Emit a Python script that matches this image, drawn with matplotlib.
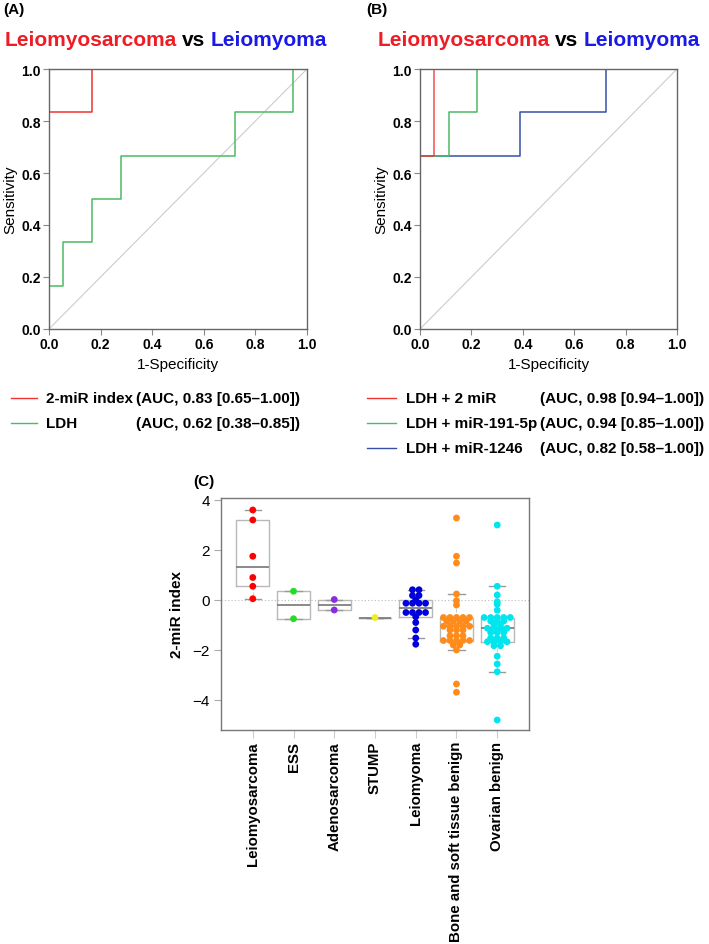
import numpy as np
import matplotlib
matplotlib.use('Agg')
import matplotlib.pyplot as plt
from matplotlib.lines import Line2D
from matplotlib.offsetbox import TextArea, HPacker, AnnotationBbox

plt.rcParams['font.family'] = ['Liberation Sans', 'DejaVu Sans']

W, H = 709, 945

# ---- ROC curves (corner points of the step curves) ----
a_mir_fpr = [0.0, 0.0, 0.167, 0.167, 1.0]
a_mir_tpr = [0.0, 0.833, 0.833, 1.0, 1.0]
a_ldh_fpr = [0.0, 0.0, 0.056, 0.056, 0.167, 0.167, 0.278, 0.278, 0.722, 0.722, 0.944, 0.944, 1.0]
a_ldh_tpr = [0.0, 0.167, 0.167, 0.333, 0.333, 0.5, 0.5, 0.667, 0.667, 0.833, 0.833, 1.0, 1.0]

b_2mir_fpr = [0.0, 0.0, 0.056, 0.056, 1.0]
b_2mir_tpr = [0.0, 0.667, 0.667, 1.0, 1.0]
b_191_fpr = [0.0, 0.0, 0.111, 0.111, 0.222, 0.222, 1.0]
b_191_tpr = [0.0, 0.667, 0.667, 0.833, 0.833, 1.0, 1.0]
b_1246_fpr = [0.0, 0.0, 0.389, 0.389, 0.722, 0.722, 1.0]
b_1246_tpr = [0.0, 0.667, 0.667, 0.833, 0.833, 1.0, 1.0]

legend_a = [('2-miR index', '(AUC, 0.83 [0.65\u20131.00])'),
            ('LDH', '(AUC, 0.62 [0.38\u20130.85])')]
legend_b = [('LDH + 2 miR', '(AUC, 0.98 [0.94\u20131.00])'),
            ('LDH + miR-191-5p', '(AUC, 0.94 [0.85\u20131.00])'),
            ('LDH + miR-1246', '(AUC, 0.82 [0.58\u20131.00])')]

# ---- 2-miR index by group ----
categories = ['Leiomyosarcoma', 'ESS', 'Adenosarcoma', 'STUMP', 'Leiomyoma',
              'Bone and soft tissue benign', 'Ovarian benign']
lms = [3.6, 3.2, 1.75, 0.9, 0.55, 0.05]
ess = [0.35, -0.75]
adeno = [0.02, -0.4]
stump = [-0.7]
lm = [0.41, 0.41, 0.18, 0.18, 0.0, -0.13, -0.13, -0.13, -0.13,
      -0.5, -0.5, -0.5, -0.5, -0.67, -0.9, -1.2, -1.52, -1.77]
bone = [3.28, 1.75, 1.48, 0.24, -0.03, -0.2,
        -0.7, -0.7, -0.7, -0.7, -0.7, -0.85, -0.85, -0.85, -0.85,
        -1.05, -1.05, -1.05, -1.05, -1.05, -1.2, -1.2, -1.2,
        -1.43, -1.43, -1.43, -1.62, -1.62, -1.62, -1.62, -1.62,
        -1.8, -1.8, -2.0, -3.36, -3.69]
ovary = [3.0, 0.55, 0.2, -0.07, -0.17, -0.41,
         -0.7, -0.7, -0.7, -0.7, -0.7, -0.84, -0.84, -0.84, -1.0, -1.0,
         -1.13, -1.13, -1.13, -1.13, -1.3, -1.3, -1.3, -1.52, -1.52, -1.52,
         -1.67, -1.67, -1.67, -1.67, -1.83, -1.83, -2.25, -2.56, -2.87, -4.8]
groups = [lms, ess, adeno, stump, lm, bone, ovary]
group_colors = ['#ff0000', '#22dd22', '#8a2be2', '#eeee22', '#0000dd', '#ff8c1a', '#00e5ee']

RED, GREEN, BLUE = '#f03232', '#4cbc60', '#3650a8'


def fig_box(x0, y0, x1, y1):
  return [x0 / W, 1 - y1 / H, (x1 - x0) / W, (y1 - y0) / H]


def colored_title(x, y, parts):
  boxes = [TextArea(t, textprops=dict(color=c, fontsize=15, fontweight='bold'))
           for t, c in parts]
  pack = HPacker(children=boxes, align='baseline', pad=0, sep=4)
  ab = AnnotationBbox(pack, (x / W, 1 - y / H), xycoords='figure fraction',
                      frameon=False, box_alignment=(0.5, 0.5))
  fig.add_artist(ab)


def style_roc(ax):
  ax.set_xlim(0, 1)
  ax.set_ylim(0, 1)
  ax.plot([0, 1], [0, 1], color='#cccccc', lw=0.8, zorder=1)
  for s in ax.spines.values():
    s.set_color('#666666')
    s.set_linewidth(1)
  ticks = [0, 0.2, 0.4, 0.6, 0.8, 1.0]
  ax.set_xticks(ticks)
  ax.set_yticks(ticks)
  ax.set_xticklabels([f'{t:.1f}' for t in ticks], fontweight='bold', fontsize=10)
  ax.set_yticklabels([f'{t:.1f}' for t in ticks], fontweight='bold', fontsize=10)
  ax.tick_params(length=4, color='#888888', pad=2)
  ax.set_xlabel('1-Specificity', fontsize=11, labelpad=4)
  ax.set_ylabel('Sensitivity', fontsize=11, labelpad=3)


def draw_legend(rows, colors, x_line0, x_line1, x_name, x_auc, y0, dy):
  for i, ((name, auc), c) in enumerate(zip(rows, colors)):
    y = 1 - (y0 + i * dy) / H
    fig.add_artist(Line2D([x_line0 / W, x_line1 / W], [y, y], color=c, lw=1))
    fig.text(x_name / W, y, name, fontsize=11, fontweight='bold', va='center')
    fig.text(x_auc / W, y, auc, fontsize=11, fontweight='bold', va='center')


def fivenum(v):
  v = np.sort(np.asarray(v, dtype=float))
  n = len(v)
  n4 = np.floor((n + 3) / 2) / 2
  d = np.array([1, n4, (n + 1) / 2, n + 1 - n4, n]) - 1
  return 0.5 * (v[np.floor(d).astype(int)] + v[np.ceil(d).astype(int)])


def center_offsets(v, step):
  v = np.asarray(v, dtype=float)
  off = np.zeros(len(v))
  for u in np.unique(v):
    idx = np.where(v == u)[0]
    m = len(idx)
    off[idx] = (np.arange(m) - (m - 1) / 2) * step
  return off


fig = plt.figure(figsize=(W / 100, H / 100), dpi=100)

# ---- panel A ----
axA = fig.add_axes(fig_box(49, 70, 307, 330))
style_roc(axA)
axA.plot(a_ldh_fpr, a_ldh_tpr, color=GREEN, lw=1.1)
axA.plot(a_mir_fpr, a_mir_tpr, color=RED, lw=1.1)

# ---- panel B ----
axB = fig.add_axes(fig_box(420, 70, 677, 330))
style_roc(axB)
axB.plot(b_1246_fpr, b_1246_tpr, color=BLUE, lw=1.1)
axB.plot(b_191_fpr, b_191_tpr, color=GREEN, lw=1.1)
axB.plot(b_2mir_fpr, b_2mir_tpr, color=RED, lw=1.1, alpha=0.85)

fig.text(3 / W, 1 - 10 / H, '(A)', fontsize=11, fontweight='bold', va='center')
fig.text(366 / W, 1 - 10 / H, '(B)', fontsize=11, fontweight='bold', va='center')
title_parts = [('Leiomyosarcoma', '#ee1c24'), ('vs', 'black'), ('Leiomyoma', '#1a1ae6')]
colored_title(166, 41, title_parts)
colored_title(539, 41, title_parts)

draw_legend(legend_a, [RED, GREEN], 11, 37, 46, 136, 399, 25)
draw_legend(legend_b, [RED, GREEN, BLUE], 367, 396, 406, 540, 399, 25)

# ---- panel C ----
axC = fig.add_axes(fig_box(221, 499, 529, 731))
pos = np.arange(1, len(categories) + 1)
stats = []
for v in groups:
  lo, q1, med, q3, hi = fivenum(v)
  iqr = q3 - q1
  arr = np.asarray(v)
  wlo = arr[arr >= q1 - 1.5 * iqr].min()
  whi = arr[arr <= q3 + 1.5 * iqr].max()
  stats.append(dict(med=med, q1=q1, q3=q3, whislo=wlo, whishi=whi, fliers=[]))

axC.axhline(0, color='#bbbbbb', lw=0.8, ls=(0, (1, 2)), zorder=0)
axC.bxp(stats, positions=pos, widths=0.8, showfliers=False, capwidths=0.4,
        boxprops=dict(color='#b8b8b8', lw=1),
        medianprops=dict(color='#808080', lw=1.3),
        whiskerprops=dict(color='#d0d0d0', lw=0.8, ls='--'),
        capprops=dict(color='#9a9a9a', lw=1))

for p, v, c in zip(pos, groups, group_colors):
  off = center_offsets(v, 0.16)
  axC.scatter(p + off, v, s=24, color=c, edgecolors='none', zorder=3)

axC.set_xlim(0.22, 7.78)
axC.set_ylim(-5.2, 4.08)
axC.set_yticks([-4, -2, 0, 2, 4])
axC.set_yticklabels(['\u22124', '\u22122', '0', '2', '4'], fontsize=11)
axC.set_xticks(pos)
axC.set_xticklabels(categories, rotation=90, fontsize=10.8, fontweight='bold')
axC.tick_params(axis='x', length=6, color='#cccccc', pad=2)
axC.tick_params(axis='y', length=5, color='#aaaaaa', pad=3)
for s in axC.spines.values():
  s.set_color('#777777')
  s.set_linewidth(1)
axC.set_ylabel('2-miR index', fontsize=11, fontweight='bold', labelpad=6)
fig.text(193 / W, 1 - 482 / H, '(C)', fontsize=11, fontweight='bold', va='center')

fig.savefig('out.png', dpi=100)
